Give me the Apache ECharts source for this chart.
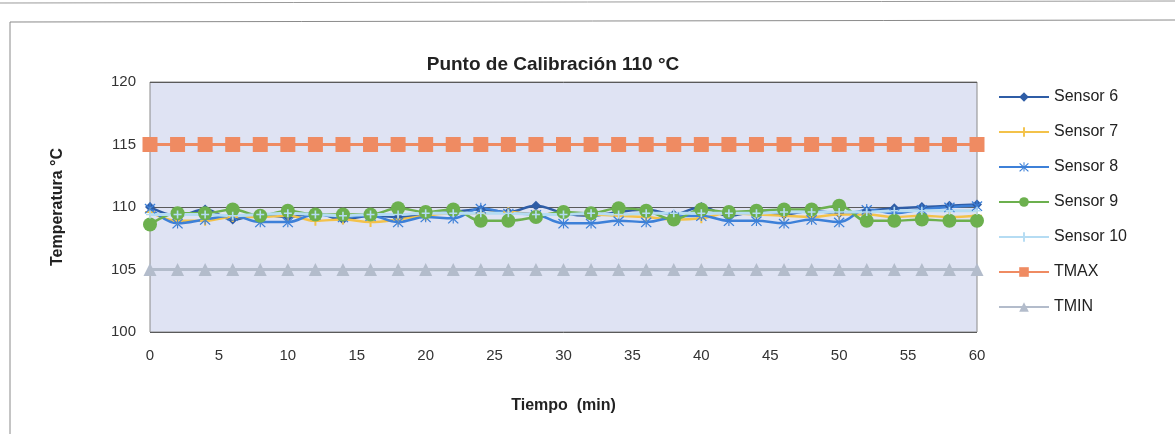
<!DOCTYPE html>
<html>
<head>
<meta charset="utf-8">
<script src="https://cdn.jsdelivr.net/npm/echarts@6/dist/echarts.min.js"></script>
<style>
  html, body { margin: 0; padding: 0; background: #fff; }
  #chart { width: 1175px; height: 434px; }
</style>
</head>
<body>
<div id="chart"></div>
<script>
  // tiempo (min), un dato cada 2 minutos
  const tiempo = [0, 2, 4, 6, 8, 10, 12, 14, 16, 18, 20, 22, 24, 26, 28, 30,
    32, 34, 36, 38, 40, 42, 44, 46, 48, 50, 52, 54, 56, 58, 60]

  const sensor6 = [110.0, 109.3, 109.8, 109.0, 109.4, 109.2, 109.5, 109.0, 109.3, 109.2, 109.4, 109.6, 109.8, 109.6, 110.1, 109.5,
    109.3, 109.6, 109.8, 109.4, 110.0, 109.3, 109.6, 109.4, 109.7, 109.5, 109.7, 109.9, 110.0, 110.1, 110.2]
  const sensor7 = [109.6, 108.9, 108.9, 109.2, 109.2, 109.3, 108.9, 109.0, 108.8, 109.0, 109.3, 109.5, 109.5, 109.6, 109.4, 109.5,
    109.4, 109.3, 109.2, 109.0, 109.1, 109.5, 109.4, 109.3, 109.2, 109.4, 109.4, 109.2, 109.3, 109.2, 109.3]
  const sensor8 = [109.9, 108.7, 109.0, 109.3, 108.8, 108.8, 109.4, 109.2, 109.3, 108.8, 109.2, 109.1, 109.9, 109.5, 109.4, 108.7,
    108.7, 108.9, 108.8, 109.2, 109.3, 108.9, 108.9, 108.7, 109.0, 108.8, 109.8, 109.5, 109.8, 110.0, 110.1]
  const sensor9 = [108.6, 109.5, 109.5, 109.8, 109.3, 109.7, 109.4, 109.4, 109.4, 109.9, 109.6, 109.8, 108.9, 108.9, 109.2, 109.6,
    109.5, 109.9, 109.7, 109.0, 109.8, 109.6, 109.7, 109.8, 109.8, 110.1, 108.9, 108.9, 109.0, 108.9, 108.9]
  const sensor10 = [109.4, 109.4, 109.4, 109.3, 109.4, 109.5, 109.4, 109.3, 109.4, 109.4, 109.5, 109.5, 109.5, 109.5, 109.4, 109.4,
    109.5, 109.4, 109.5, 109.5, 109.5, 109.5, 109.5, 109.6, 109.6, 109.6, 109.6, 109.7, 109.7, 109.7, 109.7]
  const tmax = [115, 115, 115, 115, 115, 115, 115, 115, 115, 115, 115, 115, 115, 115, 115, 115,
    115, 115, 115, 115, 115, 115, 115, 115, 115, 115, 115, 115, 115, 115, 115]
  const tmin = [105, 105, 105, 105, 105, 105, 105, 105, 105, 105, 105, 105, 105, 105, 105, 105,
    105, 105, 105, 105, 105, 105, 105, 105, 105, 105, 105, 105, 105, 105, 105]

  const PLUS = 'path://M4,0h2v4h4v2h-4v4h-2v-4h-4v-2h4z'
  const STAR = 'path://M4.5,0h1v10h-1z M0.2,1.6l0.8,-0.8l8.8,8.6l-0.8,0.8z M9.8,1.6l-0.8,-0.8l-8.8,8.6l0.8,0.8z'

  const font = 'Liberation Sans, Arial, sans-serif'

  function pares(values) {
    return tiempo.map((t, i) => [t, values[i]])
  }

  function serie(name, values, color, symbol, size, width, smooth) {
    return {
      name,
      type: 'line',
      data: pares(values),
      smooth: smooth ? 0.4 : false,
      symbol,
      symbolSize: size,
      showSymbol: true,
      lineStyle: { color, width },
      itemStyle: { color },
      emphasis: { disabled: true },
      z: 2
    }
  }

  const chart = echarts.init(document.getElementById('chart'))

  chart.setOption({
    animation: false,
    title: {
      text: 'Punto de Calibración 110 °C',
      left: 548,
      textAlign: 'center',
      top: 50,
      textStyle: { fontFamily: font, fontSize: 19, fontWeight: 'bold', color: '#222' }
    },
    graphic: [
      { type: 'line', shape: { x1: 10, y1: 22, x2: 1175, y2: 20 }, style: { stroke: '#8a8a8a', lineWidth: 1 } },
      { type: 'line', shape: { x1: 10, y1: 22, x2: 10, y2: 434 }, style: { stroke: '#8a8a8a', lineWidth: 1 } },
      { type: 'line', shape: { x1: 0, y1: 3, x2: 1175, y2: 1 }, style: { stroke: '#9a9a9a', lineWidth: 1 } }
    ],
    legend: {
      orient: 'vertical',
      left: 993,
      top: 84,
      itemWidth: 50,
      itemHeight: 12,
      itemGap: 19,
      textStyle: { fontFamily: font, fontSize: 16, color: '#222' },
      data: ['Sensor 6', 'Sensor 7', 'Sensor 8', 'Sensor 9', 'Sensor 10', 'TMAX', 'TMIN']
    },
    grid: {
      show: true,
      left: 150,
      right: 198,
      top: 82,
      bottom: 102,
      backgroundColor: '#dfe3f3',
      borderColor: '#8a8a8a',
      borderWidth: 1
    },
    xAxis: {
      type: 'value',
      min: 0,
      max: 60,
      interval: 5,
      name: 'Tiempo  (min)',
      nameLocation: 'middle',
      nameGap: 66,
      nameTextStyle: { fontFamily: font, fontSize: 16, fontWeight: 'bold', color: '#222' },
      axisLine: { show: false },
      axisTick: { show: false },
      splitLine: { show: false },
      axisLabel: { fontFamily: font, fontSize: 15, color: '#333', margin: 16 }
    },
    yAxis: {
      type: 'value',
      min: 100,
      max: 120,
      interval: 5,
      name: 'Temperatura °C',
      nameLocation: 'middle',
      nameRotate: 90,
      nameGap: 84,
      nameTextStyle: { fontFamily: font, fontSize: 16, fontWeight: 'bold', color: '#222' },
      axisLine: { show: false },
      axisTick: { show: false },
      splitLine: { show: true, lineStyle: { color: '#5a5a5a', width: 1 } },
      axisLabel: { fontFamily: font, fontSize: 15, color: '#333', margin: 14 }
    },
    series: [
      serie('Sensor 6', sensor6, '#2f5da6', 'diamond', 10, 2.5, true),
      serie('Sensor 7', sensor7, '#f3c24a', PLUS, 10, 2.5, true),
      serie('Sensor 8', sensor8, '#3d80d8', STAR, 11, 2.5, true),
      serie('Sensor 9', sensor9, '#6cb04e', 'circle', 14, 2.5, true),
      serie('Sensor 10', sensor10, '#b5dcf3', PLUS, 8, 3, true),
      serie('TMAX', tmax, '#ef8b62', 'rect', 15, 3, false),
      serie('TMIN', tmin, '#b3bccb', 'triangle', 13, 3, false)
    ]
  })
</script>
</body>
</html>
